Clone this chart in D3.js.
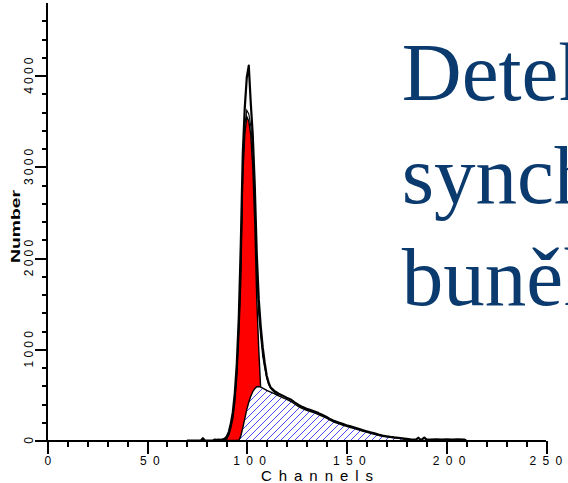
<!DOCTYPE html>
<html>
<head>
<meta charset="utf-8">
<script src="https://cdn.jsdelivr.net/npm/d3@7"></script>
<style>
  html, body { margin: 0; padding: 0; background: #fff; overflow: hidden; }
  svg { display: block; }
</style>
</head>
<body>
<svg id="chart" width="568" height="483"></svg>
<script>
// ---- data ----
const xTicksMajor = [0, 50, 100, 150, 200, 250];
const yTicksMajor = [0, 1000, 2000, 3000, 4000];

// measured histogram
const dataChannels = [70,76,77,78,79,83,84,85,86,87,88,89,90,91,92,93,94,95,96,97,98,99,100,101,102,103,104,105,106,107,108,109,110,111,112,113,114,116,118,120,122,124,126,128,130,132,134,136,138,140,142,144,146,148,150,152,154,156,158,160,162,164,166,168,170,172,174,176,178,180,182,184,185,186,187,188,189,190,192,195,198,200,203,206,209,210];
const dataCounts   = [0,0,0,25,0,0,10,8,10,8,12,22,45,95,185,310,520,840,1350,2150,3150,3650,3980,4110,3700,3350,2800,2050,1550,1250,1020,850,710,630,580,560,540,512,492,470,450,418,390,366,348,334,318,300,280,258,232,212,197,182,167,155,142,128,114,102,90,80,66,55,47,40,34,30,24,18,12,10,12,30,10,14,32,12,10,12,10,12,10,12,10,0];

// total model fit
const fitChannels = [88,89,90,91,92,93,94,95,96,97,98,99,100,101,102,103,104,105,106,107,108,109,110,111,112,113,114,116];
const fitCounts   = [0,8,28,75,165,275,460,760,1230,1880,2980,3450,3620,3580,3450,3200,2700,1850,1380,1130,920,790,680,610,570,545,525,495];

// G1 peak (red)
const g1Channels = [88,89,90,91,92,93,94,95,96,97,98,99,100,101,102,103,104,105,106,107,108,109,110,111,112];
const g1Counts   = [0,5,20,60,140,240,420,700,1150,1750,2900,3350,3550,3500,3350,3000,2400,1550,1000,560,300,150,70,25,0];

// S phase (hatched)
const sChannels = [95,96,97,98,99,100,101,102,103,104,105,106,107,108,110,112,114,116,118,120,122,124,126,128,130,132,134,136,138,140,142,144,146,148,150,152,154,156,158,160,162,164,166,168,170,172,174,176,178,180,182,184];
const sCounts   = [0,0,50,140,240,340,420,485,535,570,590,592,585,575,550,530,510,490,470,450,430,400,372,350,332,318,302,285,265,245,220,200,185,170,155,143,130,117,104,92,80,68,57,47,40,34,29,25,18,10,4,0];

const titleLines = ["Detekce", "synchronizace", "buněk"];

// ---- drawing ----
const svg = d3.select("#chart");
svg.append("rect").attr("width", 568).attr("height", 483).attr("fill", "#fff");

const defs = svg.append("defs");
const pat = defs.append("pattern").attr("id", "hatch")
  .attr("patternUnits", "userSpaceOnUse").attr("width", 7).attr("height", 7);
pat.append("rect").attr("width", 7).attr("height", 7).attr("fill", "#fff");
pat.append("path").attr("d", "M-1,1 l2,-2 M0,7 l7,-7 M6,8 l2,-2")
  .attr("stroke", "#4b4bf5").attr("stroke-width", 1);

const x = d3.scaleLinear().domain([0, 250]).range([47.3, 546]);
const y = d3.scaleLinear().domain([0, 4800]).range([440.5, 2.7]);

const zip = (cs, vs) => cs.map((c, i) => [c, vs[i]]);

const area = d3.area().x(d => x(d[0])).y0(y(0)).y1(d => y(d[1]));
const line = d3.line().x(d => x(d[0])).y(d => y(d[1]));

// G1 red
svg.append("path").datum(zip(g1Channels, g1Counts))
  .attr("d", area).attr("fill", "#ff0000")
  .attr("stroke", "#000").attr("stroke-width", 1.4);

// S phase hatched
svg.append("path").datum(zip(sChannels, sCounts))
  .attr("d", area).attr("fill", "url(#hatch)").attr("stroke", "none");
svg.append("path").datum(zip(sChannels, sCounts))
  .attr("d", line).attr("fill", "none").attr("stroke", "#000").attr("stroke-width", 1.4);

// fit
svg.append("path").datum(zip(fitChannels, fitCounts))
  .attr("d", line).attr("fill", "none").attr("stroke", "#000").attr("stroke-width", 1.1);

// data
svg.append("path").datum(zip(dataChannels, dataCounts))
  .attr("d", line).attr("fill", "none").attr("stroke", "#000")
  .attr("stroke-width", 2.2).attr("stroke-linejoin", "round");

// ---- axes ----
const axFont = "'Liberation Sans', Arial, sans-serif";
const xMinor = d3.range(0, 251, 10).filter(v => v % 50 !== 0);
const yMinor = d3.range(0, 4601, 200).filter(v => v % 1000 !== 0);

const gx = svg.append("g").attr("transform", `translate(0,${y(0)})`);
gx.append("g").call(d3.axisBottom(x).tickValues(xMinor).tickSize(6).tickSizeOuter(0).tickFormat(""))
  .call(g => g.select(".domain").remove());
gx.append("g").call(d3.axisBottom(x).tickValues(xTicksMajor).tickSize(13).tickSizeOuter(0).tickPadding(4))
  .call(g => g.select(".domain").remove())
  .call(g => g.selectAll("text")
     .attr("font-family", axFont).attr("font-size", 12)
     .style("letter-spacing", "6.3px")
     .attr("dx", d => d === 0 ? 3.2 : (d === 250 ? 2.5 : 5.5))
     .attr("y", 16).attr("dy", "0.71em")
     .attr("fill", "#000"));
gx.selectAll("line").attr("stroke", "#000").attr("stroke-width", 2).attr("shape-rendering", "crispEdges");
gx.append("line").attr("x1", 35).attr("x2", x(250)).attr("y1", 0).attr("y2", 0)
  .attr("stroke", "#000").attr("stroke-width", 2).attr("shape-rendering", "crispEdges");

const gy = svg.append("g").attr("transform", `translate(${x(0)},0)`);
gy.append("g").call(d3.axisLeft(y).tickValues(yMinor).tickSize(5).tickSizeOuter(0).tickFormat(""))
  .call(g => g.select(".domain").remove());
gy.append("g").call(d3.axisLeft(y).tickValues(yTicksMajor.filter(v => v > 0)).tickSize(12).tickSizeOuter(0))
  .call(g => g.select(".domain").remove())
  .call(g => g.selectAll("text").remove());
gy.selectAll("line").attr("stroke", "#000").attr("stroke-width", 2).attr("shape-rendering", "crispEdges");
gy.append("line").attr("x1", 0).attr("x2", 0).attr("y1", y(4800)).attr("y2", y(0))
  .attr("stroke", "#000").attr("stroke-width", 2).attr("shape-rendering", "crispEdges");

// rotated y tick labels
gy.selectAll("text.ylab").data(yTicksMajor).join("text")
  .attr("class", "ylab")
  .attr("transform", d => `translate(-14,${y(d)}) rotate(-90)`)
  .attr("text-anchor", "middle")
  .attr("dx", 1.6)
  .attr("font-family", axFont).attr("font-size", 12)
  .style("letter-spacing", "3.2px")
  .attr("fill", "#000")
  .text(d => d);

// axis titles
svg.append("text")
  .attr("transform", `translate(20,226.5) rotate(-90)`)
  .attr("text-anchor", "middle")
  .attr("font-family", axFont).attr("font-size", 13).attr("font-weight", "bold")
  .attr("textLength", 73).attr("lengthAdjust", "spacingAndGlyphs")
  .text("Number");

svg.append("text")
  .attr("x", 261).attr("y", 481)
  .attr("font-family", axFont).attr("font-size", 15)
  .attr("textLength", 112).attr("lengthAdjust", "spacing")
  .text("Channels");

// slide title (clipped by the right edge, as in the reference)
svg.append("g").selectAll("text").data(titleLines).join("text")
  .attr("x", 401.7)
  .attr("y", (d, i) => 100 + i * 102.5)
  .attr("font-family", "'Liberation Serif', 'Times New Roman', serif")
  .attr("font-size", 83)
  .attr("fill", "#0b3a6e")
  .text(d => d);
</script>
</body>
</html>
